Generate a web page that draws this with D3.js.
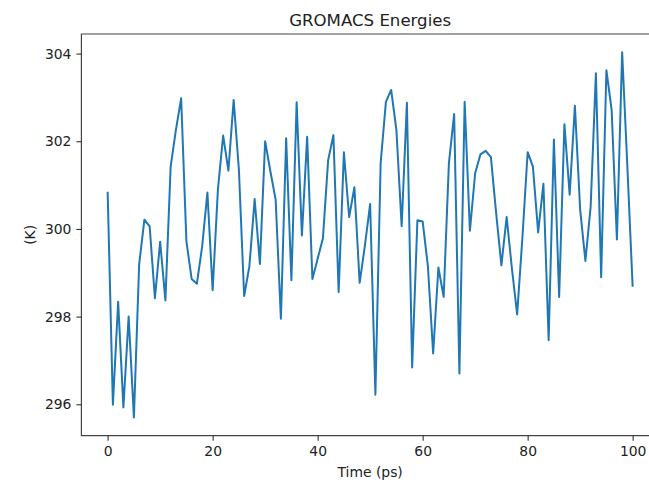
<!DOCTYPE html>
<html lang="en">
<head>
  <meta charset="UTF-8">
  <title>GROMACS Energies</title>
  <script src="https://d3js.org/d3.v7.min.js"></script>
  <style>
    body { margin: 0; background: #fff; }
    svg { display: block; overflow: hidden; font-family: "DejaVu Sans", sans-serif; }
    .tick text { font-size: 13.9px; fill: #222; }
    .tick line { stroke: #333; stroke-width: 1.1px; }
    .domain { display: none; }
    .spine { fill: none; stroke: #444; stroke-width: 1.2px; }
    .series { fill: none; stroke: #1f77b4; stroke-width: 2px; stroke-linejoin: round; }
  </style>
</head>
<body>
<svg width="649" height="482"></svg>
<script>
  // time in ps
  const time = [
    0, 1, 2, 3, 4, 5, 6, 7, 8, 9, 10, 11, 12, 13, 14, 15, 16, 17, 18, 19, 20,
    21, 22, 23, 24, 25, 26, 27, 28, 29, 30, 31, 32, 33, 34, 35, 36, 37, 38, 39, 40,
    41, 42, 43, 44, 45, 46, 47, 48, 49, 50, 51, 52, 53, 54, 55, 56, 57, 58, 59, 60,
    61, 62, 63, 64, 65, 66, 67, 68, 69, 70, 71, 72, 73, 74, 75, 76, 77, 78, 79, 80,
    81, 82, 83, 84, 85, 86, 87, 88, 89, 90, 91, 92, 93, 94, 95, 96, 97, 98, 99, 100
  ];

  // temperature (K)
  const temperature = [
    300.85, 295.99, 298.34, 295.93, 298.00, 295.70, 299.19, 300.21, 300.06, 298.42,
    299.71, 298.37, 301.42, 302.26, 302.98, 299.72, 298.86, 298.75, 299.60, 300.83,
    298.60, 300.90, 302.13, 301.33, 302.94, 301.35, 298.47, 299.15, 300.68, 299.20,
    302.00, 301.31, 300.67, 297.95, 302.07, 298.83, 302.89, 299.85, 302.10, 298.86,
    299.32, 299.78, 301.57, 302.14, 298.56, 301.75, 300.27, 300.95, 298.77, 299.62,
    300.57, 296.22, 301.50, 302.90, 303.17, 302.26, 300.06, 302.88, 296.84, 300.20,
    300.17, 299.15, 297.16, 299.12, 298.45, 301.50, 302.62, 296.70, 302.90, 299.96,
    301.27, 301.70, 301.78, 301.64, 300.36, 299.17, 300.27, 299.10, 298.05, 299.80,
    301.75, 301.42, 299.92, 301.03, 297.46, 302.04, 298.45, 302.39, 300.78, 302.81,
    300.44, 299.27, 300.51, 303.55, 298.90, 303.62, 302.71, 299.76, 304.03, 301.40,
    298.68
  ];

  const xTicks = [0, 20, 40, 60, 80, 100];
  const yTicks = [296, 298, 300, 302, 304];

  const svg = d3.select("svg");
  const margin = { top: 34, left: 81.4 };
  const plotW = 577.5;   // right spine falls just outside the picture
  const plotH = 401.7;

  const g = svg.append("g")
    .attr("transform", `translate(${margin.left},${margin.top})`);

  // matplotlib-like 5% margins
  const xExt = d3.extent(time);
  const xPad = (xExt[1] - xExt[0]) * 0.05;
  const yExt = d3.extent(temperature);
  const yPad = (yExt[1] - yExt[0]) * 0.05;

  const x = d3.scaleLinear()
    .domain([xExt[0] - xPad, xExt[1] + xPad])
    .range([0, plotW]);

  const y = d3.scaleLinear()
    .domain([yExt[0] - yPad, yExt[1] + yPad])
    .range([plotH, 0]);

  const line = d3.line()
    .x((d, i) => x(time[i]))
    .y(d => y(d));

  g.append("path")
    .datum(temperature)
    .attr("class", "series")
    .attr("d", line);

  // left, top and bottom spines (the right one is cropped off in the original)
  g.append("path")
    .attr("class", "spine")
    .attr("d", `M${plotW},0H0V${plotH}H${plotW}`);

  const xAxis = g.append("g")
    .attr("transform", `translate(0,${plotH})`)
    .call(d3.axisBottom(x).tickValues(xTicks).tickSize(5).tickPadding(5).tickFormat(d3.format("d")));
  xAxis.selectAll(".tick text").attr("dy", "0.75em");

  g.append("g")
    .call(d3.axisLeft(y).tickValues(yTicks).tickSize(5).tickPadding(5).tickFormat(d3.format("d")));

  g.selectAll(".tick text").style("font-family", "DejaVu Sans");

  svg.append("text")
    .attr("x", margin.left + plotW / 2)
    .attr("y", 26)
    .attr("text-anchor", "middle")
    .style("font-size", "16.6px")
    .style("fill", "#222")
    .text("GROMACS Energies");

  svg.append("text")
    .attr("x", margin.left + plotW / 2)
    .attr("y", 477)
    .attr("text-anchor", "middle")
    .style("font-size", "13.9px")
    .style("fill", "#222")
    .text("Time (ps)");

  svg.append("text")
    .attr("transform", `translate(35,${margin.top + plotH / 2}) rotate(-90)`)
    .attr("text-anchor", "middle")
    .style("font-size", "13.9px")
    .style("fill", "#222")
    .text("(K)");
</script>
</body>
</html>
